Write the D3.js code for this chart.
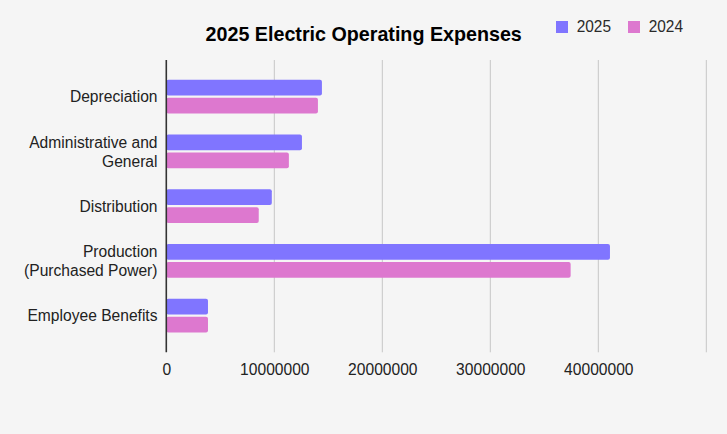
<!DOCTYPE html>
<html>
<head>
<meta charset="utf-8">
<script src="https://cdn.jsdelivr.net/npm/d3@7/dist/d3.min.js"></script>
<style>
  html, body { margin: 0; padding: 0; background: #f5f5f5; }
  svg { display: block; }
  text { font-family: "Liberation Sans", Arial, sans-serif; }
</style>
</head>
<body>
<svg id="chart" width="727" height="434"></svg>
<script>
const categories = ["Depreciation", "Administrative and General", "Distribution", "Production (Purchased Power)", "Employee Benefits"];
const categoryLines = [["Depreciation"], ["Administrative and", "General"], ["Distribution"], ["Production", "(Purchased Power)"], ["Employee Benefits"]];
const seriesNames = ["2025", "2024"];
const values2025 = [14410000, 12560000, 9770000, 41080000, 3860000];
const values2024 = [14040000, 11350000, 8560000, 37440000, 3860000];
const xTicks = [0, 10000000, 20000000, 30000000, 40000000, 50000000];
const xTickLabels = ["0", "10000000", "20000000", "30000000", "40000000", ""];
const colors = ["#8075ff", "#dd78cf"];
const titleText = "2025 Electric Operating Expenses";

(function () {
const svg = d3.select("#chart");
svg.append("rect").attr("width", 727).attr("height", 434).attr("fill", "#f5f5f5");

const pLeft = 166.3, pRight = 706.3, pTop = 60, pBottom = 352.3;
const x = d3.scaleLinear().domain([0, 50000000]).range([pLeft, pRight]);
const y = d3.scaleBand().domain(categories).range([pTop, pBottom]).paddingInner(0.3845).paddingOuter(0.362);
const ySub = d3.scaleBand().domain(seriesNames).range([0, y.bandwidth()]).paddingInner(0.128);

// gridlines
svg.append("g").selectAll("line").data(xTicks.slice(1)).join("line")
  .attr("x1", d => x(d)).attr("x2", d => x(d))
  .attr("y1", pTop).attr("y2", pBottom)
  .attr("stroke", "#c6c6c6").attr("stroke-width", 1);

// x axis tick labels
const xAxis = d3.axisBottom(x).tickValues(xTicks).tickSize(0).tickPadding(0)
  .tickFormat((d, i) => xTickLabels[i]);
const gx = svg.append("g").attr("transform", `translate(0,${pBottom})`).call(xAxis);
gx.select(".domain").remove();
gx.selectAll("text").attr("dy", null).attr("y", 22.7)
  .attr("font-size", "15.6px").attr("font-family", "Liberation Sans, Arial, sans-serif").attr("fill", "#222");

// bars
const series = [values2025, values2024];
const g = svg.append("g");
categories.forEach((c, i) => {
  seriesNames.forEach((s, j) => {
    g.append("rect")
      .attr("x", x(0))
      .attr("y", y(c) + ySub(s))
      .attr("width", x(series[j][i]) - x(0))
      .attr("height", ySub.bandwidth())
      .attr("rx", 2).attr("ry", 2)
      .attr("fill", colors[j]);
  });
});

// zero axis line
svg.append("line").attr("x1", x(0)).attr("x2", x(0)).attr("y1", pTop).attr("y2", pBottom)
  .attr("stroke", "#333").attr("stroke-width", 1.6);

// y labels
const lineH = 19;
categories.forEach((c, i) => {
  const lines = categoryLines[i];
  const cy = y(c) + y.bandwidth() / 2;
  const t = svg.append("text").attr("text-anchor", "end")
    .attr("font-size", "15.6px").attr("fill", "#222");
  lines.forEach((ln, k) => {
    const off = (k - (lines.length - 1) / 2) * lineH;
    t.append("tspan").attr("x", 157.5).attr("y", cy + off + 5.6).text(ln);
  });
});

// title
svg.append("text").attr("x", 363.7).attr("y", 41.3).attr("text-anchor", "middle")
  .attr("font-size", "19.7px").attr("font-weight", "bold").attr("fill", "#000").text(titleText);

// legend
const legendX = [556, 628];
seriesNames.forEach((s, j) => {
  svg.append("rect").attr("x", legendX[j]).attr("y", 21).attr("width", 12).attr("height", 12).attr("fill", colors[j]);
  svg.append("text").attr("x", legendX[j] + 20.7).attr("y", 32.2)
    .attr("font-size", "17.4px").attr("fill", "#2a2a2a")
    .attr("textLength", 34.3).attr("lengthAdjust", "spacingAndGlyphs").text(s);
});
})();
</script>
</body>
</html>
